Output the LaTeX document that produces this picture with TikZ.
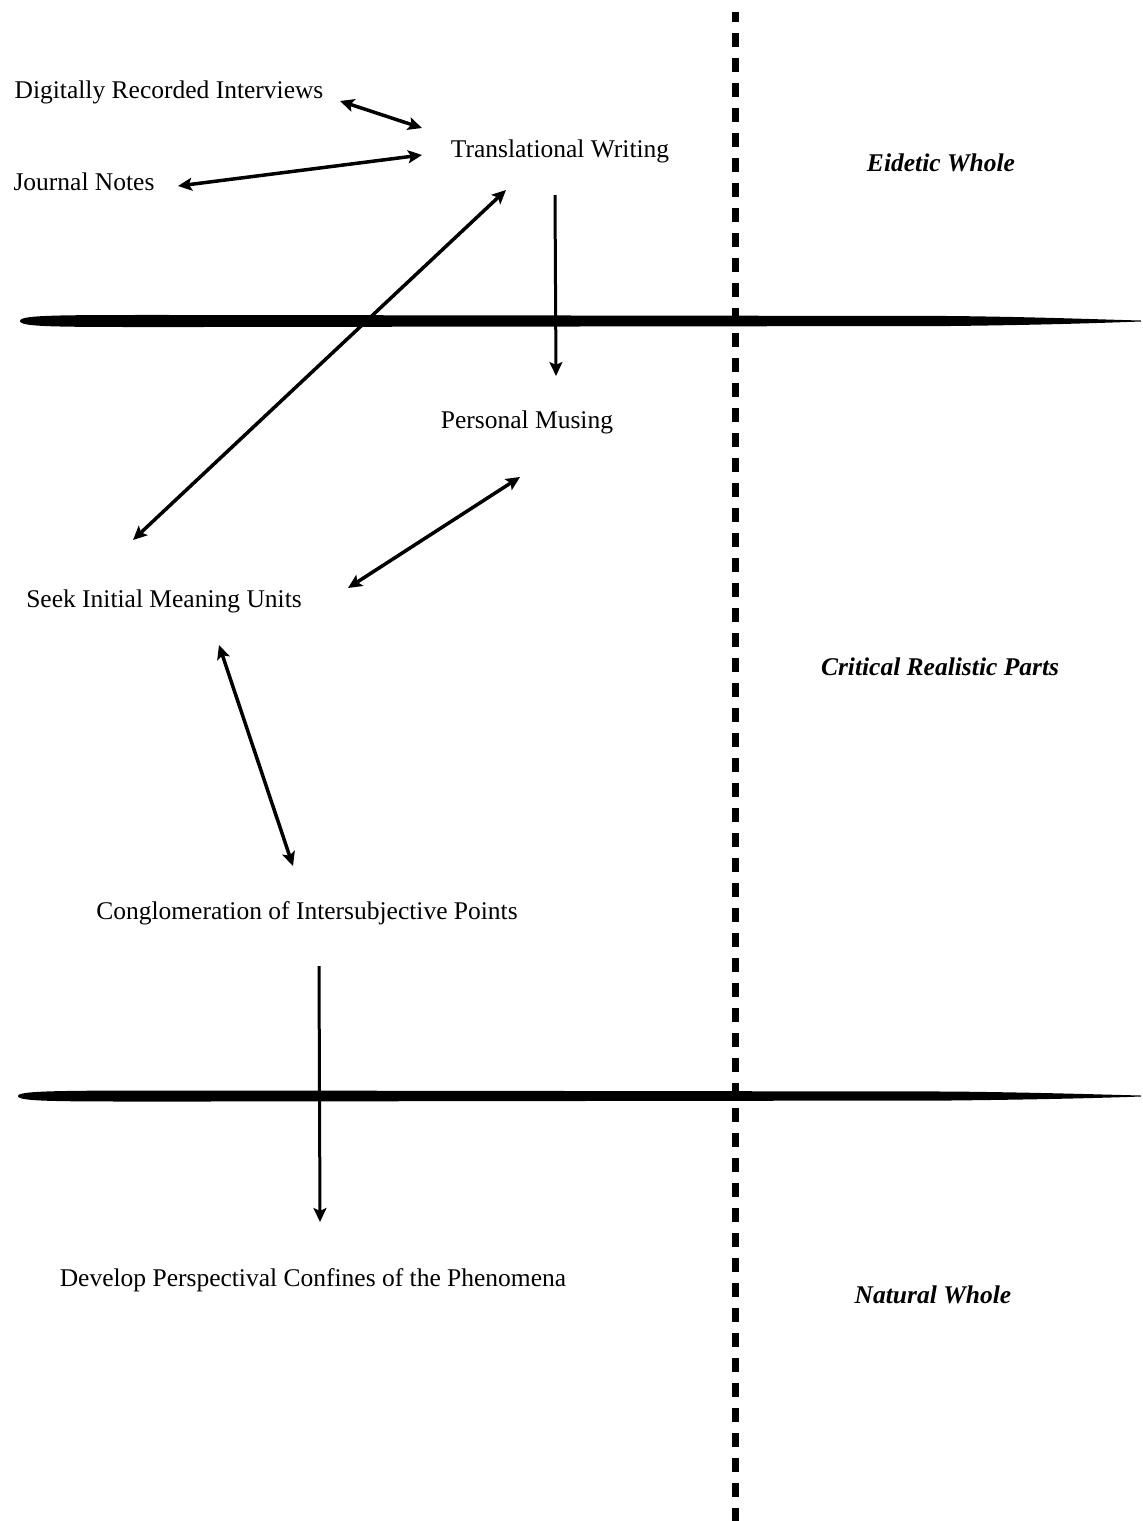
\documentclass[tikz,border=0pt]{standalone}
\usepackage{fontspec}
\setmainfont{Liberation Serif}
\usetikzlibrary{arrows.meta,calc}
\tikzset{
  lbl/.style={font=\fontsize{25.5}{28}\selectfont, inner sep=0pt, anchor=center},
  zone/.style={font=\fontsize{25.5}{28}\selectfont\bfseries\itshape, inner sep=0pt, anchor=center},
  conn/.style={line width=3.5pt, {Stealth[length=14pt,width=13pt,inset=3pt]}-{Stealth[length=14pt,width=13pt,inset=3pt]}},
  oneway/.style={line width=3pt, -{Stealth[length=14pt,width=13pt,inset=3pt]}},
  divider/.style={fill=black, draw=none},
  boundary/.style={line width=7pt, dash pattern=on 14pt off 11pt, dash phase=4pt}
}
\begin{document}
\begin{tikzpicture}[x=1pt,y=-1pt]
\useasboundingbox (0,0) rectangle (1143,1521);
% vertical dashed boundary
\coordinate (vtop) at (735,12);
\coordinate (vbot) at (735,1521);
\draw[boundary] (vtop) -- (vbot);
% horizontal lens-shaped dividers
\fill[divider] (20,321) .. controls (20,314.5) and (60,315) .. (200,315) -- (950,316) .. controls (1040,317) and (1100,319.5) .. (1141,320.5) -- (1141,321.5) .. controls (1100,323) and (1040,325) .. (950,326) -- (200,327) .. controls (60,327) and (20,327.5) .. (20,321) -- cycle;
\fill[divider] (18,1096) .. controls (18,1090.5) and (60,1090.5) .. (200,1090.5) -- (950,1091.5) .. controls (1040,1092.5) and (1100,1094.5) .. (1141,1095.5) -- (1141,1096.5) .. controls (1100,1098) and (1040,1099.5) .. (950,1100.5) -- (200,1101.5) .. controls (60,1101.5) and (18,1102) .. (18,1096) -- cycle;
% nodes
\node[lbl] (dri) at (169,92) {Digitally Recorded Interviews};
\node[lbl] (tw) at (560,151) {Translational Writing};
\node[lbl] (jn) at (84,182) {Journal Notes};
\node[lbl] (pm) at (527,422) {Personal Musing};
\node[lbl] (seek) at (164,601) {Seek Initial Meaning Units};
\node[lbl] (cong) at (307,913) {Conglomeration of Intersubjective Points};
\node[lbl] (dev) at (313,1280) {Develop Perspectival Confines of the Phenomena};
\node[zone] (ew) at (941,163) {Eidetic Whole};
\node[zone] (crp) at (940,667) {Critical Realistic Parts};
\node[zone] (nw) at (933,1295) {Natural Whole};
% connectors
\draw[conn] ($(dri)+(171,9)$) -- ($(tw)+(-138,-23)$);
\draw[conn] ($(jn)+(94,4)$) -- ($(tw)+(-138,4)$);
\draw[conn] ($(seek)+(-31,-61)$) -- ($(tw)+(-54,39)$);
\draw[oneway] ($(tw)+(-5,44)$) -- ($(pm)+(29,-46)$);
\draw[conn] ($(pm)+(-7,55)$) -- ($(seek)+(184,-13)$);
\draw[conn] ($(seek)+(55,44)$) -- ($(cong)+(-14,-47)$);
\draw[oneway] ($(cong)+(12,53)$) -- ($(dev)+(7,-58)$);
\end{tikzpicture}
\end{document}
